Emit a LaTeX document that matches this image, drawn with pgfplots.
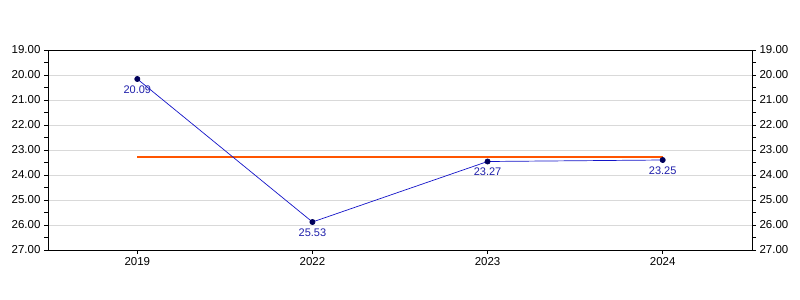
\documentclass[border=0pt]{standalone}
\usepackage{fontspec}
\setmainfont{Liberation Sans}
\usepackage{pgfplots}
\pgfplotsset{compat=1.18}
\definecolor{gridgray}{RGB}{217,217,217}
\definecolor{lineblue}{RGB}{20,20,200}
\definecolor{markblue}{RGB}{0,0,90}
\definecolor{labblue}{RGB}{30,30,170}
\definecolor{avgorange}{RGB}{255,85,0}
\pgfplotsset{
  base/.style={
    scale only axis, width=704bp, height=200bp,
    at={(48bp,50bp)}, anchor=south west,
    xmin=-0.51, xmax=3.51, ymin=19, ymax=27, y dir=reverse,
    ytick={19,20,...,27}, minor ytick={19.5,20.5,...,26.5},
    tick align=outside, major tick length=4bp, minor tick length=4bp,
    tick style={black, line width=0.8bp},
    axis line style={black, line width=0.9bp},
    /pgf/number format/assume math mode=true,
    yticklabel style={/pgf/number format/.cd, fixed, fixed zerofill, precision=2},
    ticklabel style={font=\fontsize{11.5bp}{13bp}\selectfont, text=black},
  }
}
\begin{document}
\begin{tikzpicture}
\useasboundingbox (0,0) rectangle (800bp,300bp);
\begin{axis}[base,
    xtick={0,1,2,3}, xticklabels={2019,2022,2023,2024}, xtick pos=lower,
    ytick pos=left,
    ymajorgrids, major grid style={gridgray, line width=0.8bp},
]
\addplot[avgorange, line width=1.8bp, forget plot] coordinates {(0,23.27) (3,23.27)};
\addplot[lineblue, line width=0.7bp,
    mark=*, mark size=2.6bp, mark options={fill=markblue, draw=markblue},
    point meta=explicit symbolic,
    nodes near coords,
    every node near coord/.append style={anchor=north, yshift=-5bp, text=labblue, font=\fontsize{11bp}{12bp}\selectfont, inner sep=1bp},
] table[meta=lab] {
x y lab
0 20.16 20.09
1 25.88 25.53
2 23.46 23.27
3 23.40 23.25
};
\end{axis}
\begin{axis}[base,
    xtick=\empty, ytick pos=right, yticklabel pos=right,
    axis line style={draw=none},
]
\end{axis}
\end{tikzpicture}
\end{document}
